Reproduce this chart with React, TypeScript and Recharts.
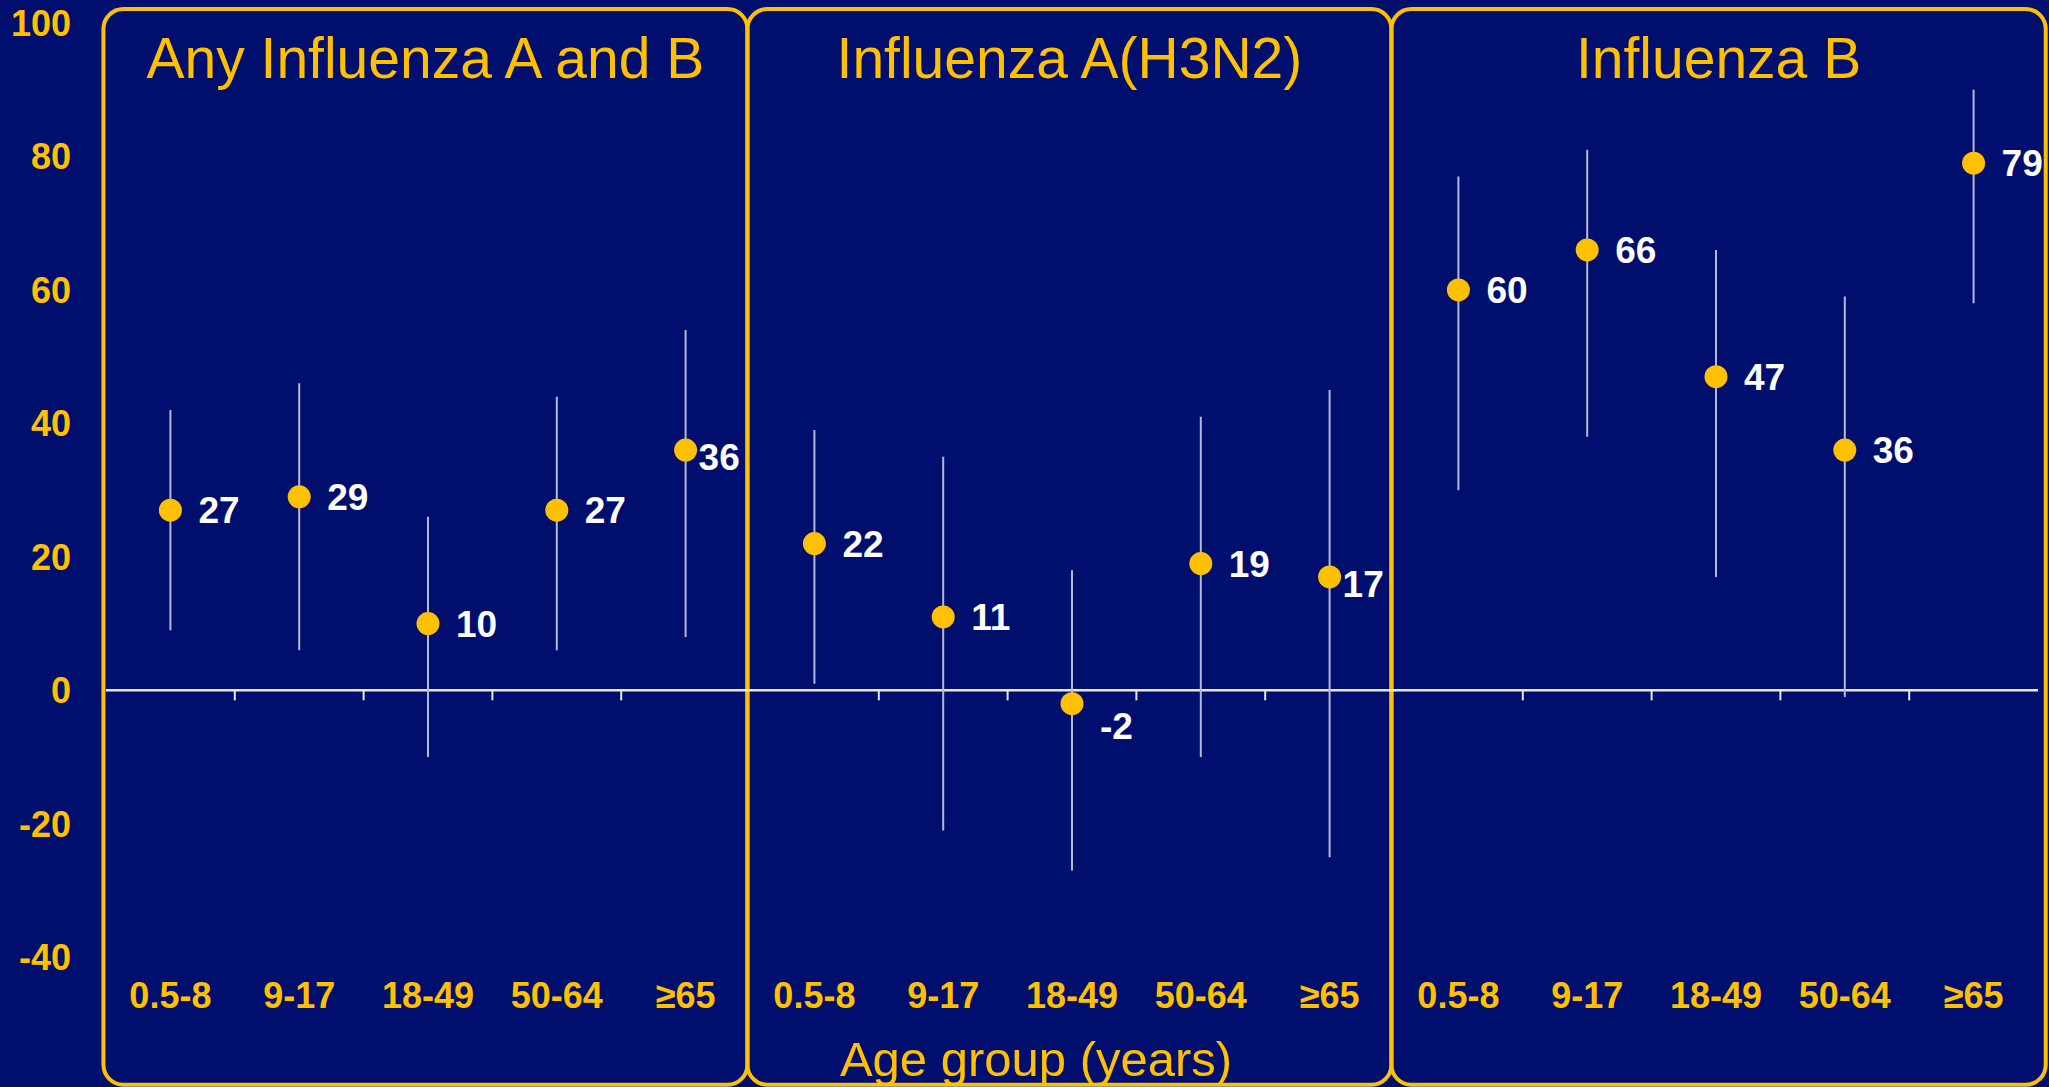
import React from 'react';
import {
  ComposedChart,
  Scatter,
  XAxis,
  YAxis,
  ErrorBar,
  ReferenceLine,
  ReferenceArea,
  Label,
} from 'recharts';

// ---- data ----
const panelTitles = ['Any Influenza A and B', 'Influenza A(H3N2)', 'Influenza B'];
const ageGroups = ['0.5-8', '9-17', '18-49', '50-64', '≥65'];

const anyFluVE = [27, 29, 10, 27, 36];
const anyFluLow = [9, 6, -10, 6, 8];
const anyFluHigh = [42, 46, 26, 44, 54];

const h3n2VE = [22, 11, -2, 19, 17];
const h3n2Low = [1, -21, -27, -10, -25];
const h3n2High = [39, 35, 18, 41, 45];

const fluBVE = [60, 66, 47, 36, 79];
const fluBLow = [30, 38, 17, -1, 58];
const fluBHigh = [77, 81, 66, 59, 90];

const yTicks = [-40, -20, 0, 20, 40, 60, 80, 100];
const xAxisTitle = 'Age group (years)';

// ---- styles ----
const BG = '#000E6E';
const GOLD = '#FFC000';
const BAR = '#B4B8D8';
const AXIS = '#E8E8E8';
const FONT = '"Liberation Sans", Arial, Helvetica, sans-serif';

const panels = [
  { ve: anyFluVE, low: anyFluLow, high: anyFluHigh },
  { ve: h3n2VE, low: h3n2Low, high: h3n2High },
  { ve: fluBVE, low: fluBLow, high: fluBHigh },
];

const data = panels.flatMap((pan, p) =>
  ageGroups.map((grp, g) => ({
    x: p * ageGroups.length + g + 0.5,
    p,
    g,
    ve: pan.ve[g],
    err: [pan.ve[g] - pan.low[g], pan.high[g] - pan.ve[g]],
  }))
);

const xTicks = data.map((d) => d.x);
const nCat = data.length;
const boundaryTicks = Array.from({ length: nCat - 1 }, (_, i) => i + 1).filter(
  (i) => i % ageGroups.length !== 0
);

const XTick = (props: any) => {
  const { x, y, payload } = props;
  const label = ageGroups[Math.floor(payload.value) % ageGroups.length];
  return (
    <text
      x={x}
      y={y - 16}
      textAnchor="middle"
      fill={GOLD}
      fontSize={36}
      fontWeight="bold"
      fontFamily={FONT}
    >
      {label}
    </text>
  );
};

const renderPoint = (props: any) => {
  const { cx, cy, payload } = props;
  if (cx == null || cy == null) return <g />;
  const tight = payload.g === ageGroups.length - 1 && payload.p < panels.length - 1;
  const dx = tight ? 13 : 28;
  const dy = tight ? 7 : payload.ve < 0 ? 22 : 0;
  return (
    <g>
      <circle cx={cx} cy={cy} r={11.5} fill={GOLD} />
      <text
        x={cx + dx}
        y={cy + dy}
        dy="0.36em"
        fill="#FFFFFF"
        fontSize={37}
        fontWeight="bold"
        fontFamily={FONT}
      >
        {payload.ve}
      </text>
    </g>
  );
};

const PanelShape = (props: any) => {
  const { x, y, width, height, title } = props;
  return (
    <g>
      <rect
        x={x}
        y={y}
        width={width}
        height={height}
        rx={20}
        ry={20}
        fill="none"
        stroke={GOLD}
        strokeWidth={4}
      />
      <text
        x={x + width / 2}
        y={y + 69}
        textAnchor="middle"
        fill={GOLD}
        fontSize={57}
        fontFamily={FONT}
      >
        {title}
      </text>
    </g>
  );
};

export default function App() {
  return (
    <div
      style={{
        position: 'absolute',
        left: 0,
        top: 0,
        width: 2049,
        height: 1087,
        background: BG,
        overflow: 'hidden',
      }}
    >
      <ComposedChart
        width={2049}
        height={1087}
        data={data}
        margin={{ top: 23, right: 11, bottom: 0, left: 0 }}
      >
        <XAxis
          type="number"
          dataKey="x"
          domain={[0, nCat]}
          ticks={xTicks}
          interval={0}
          axisLine={false}
          tickLine={false}
          tickSize={0}
          tickMargin={0}
          height={63}
          tick={<XTick />}
          label={
            <Label
              content={(lp: any) => {
                const vb = lp.viewBox || {};
                return (
                  <text
                    x={vb.x + vb.width / 2 - 36}
                    y={vb.y + 52}
                    textAnchor="middle"
                    fill={GOLD}
                    fontSize={49}
                    fontFamily={FONT}
                  >
                    {xAxisTitle}
                  </text>
                );
              }}
            />
          }
        />
        <YAxis
          type="number"
          dataKey="ve"
          domain={[-50, 100]}
          ticks={yTicks}
          interval={0}
          width={106}
          axisLine={false}
          tickLine={false}
          tickSize={0}
          tickMargin={35}
          tick={{ fill: GOLD, fontSize: 36, fontWeight: 'bold', fontFamily: FONT }}
        />
        {panelTitles.map((t, p) => (
          <ReferenceArea
            key={t}
            x1={p * ageGroups.length - 0.02}
            x2={p === panelTitles.length - 1 ? nCat + 0.06 : (p + 1) * ageGroups.length - 0.02}
            y1={-59.1}
            y2={102.1}
            ifOverflow="visible"
            shape={(sp: any) => <PanelShape {...sp} title={t} />}
          />
        ))}
        <ReferenceLine y={0} stroke={AXIS} strokeWidth={2.5} ifOverflow="visible" />
        {boundaryTicks.map((b) => (
          <ReferenceLine
            key={b}
            segment={[
              { x: b, y: 0 },
              { x: b, y: -1.5 },
            ]}
            stroke={AXIS}
            strokeWidth={2}
            ifOverflow="visible"
          />
        ))}
        <Scatter dataKey="ve" isAnimationActive={false} shape={renderPoint}>
          <ErrorBar
            dataKey="err"
            direction="y"
            width={0}
            stroke={BAR}
            strokeWidth={2}
            isAnimationActive={false}
          />
        </Scatter>
      </ComposedChart>
    </div>
  );
}
